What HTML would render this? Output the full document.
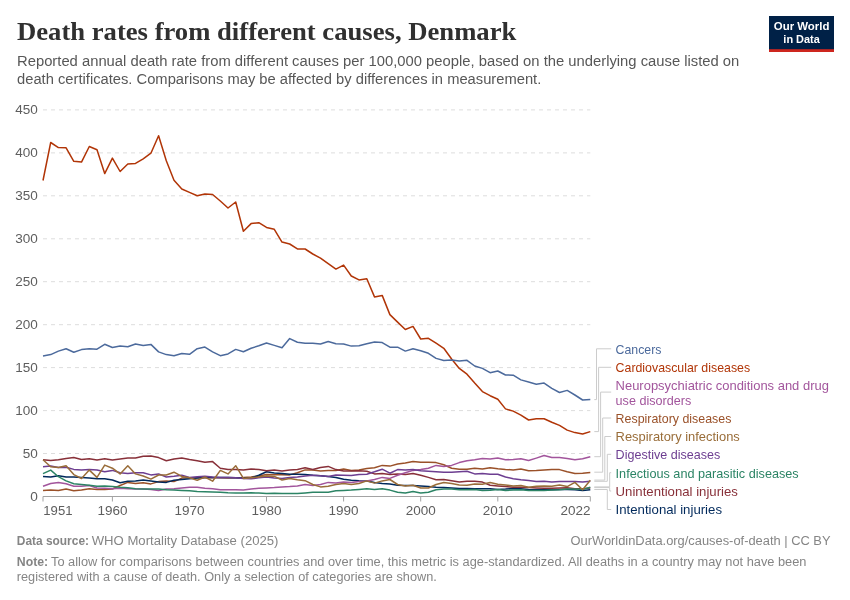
<!DOCTYPE html>
<html><head><meta charset="utf-8"><title>Death rates from different causes, Denmark</title>
<style>
html,body{margin:0;padding:0;background:#fff;}
body{width:850px;height:600px;overflow:hidden;font-family:"Liberation Sans",sans-serif;}
svg{display:block;will-change:transform;}
text{font-family:"Liberation Sans",sans-serif;}
.serif{font-family:"Liberation Serif",serif;}
</style></head><body>
<svg width="850" height="600" viewBox="0 0 850 600">
<rect width="850" height="600" fill="#ffffff"/>

<text class="serif" x="17" y="40" font-size="26.2" font-weight="700" fill="#303030" textLength="499.3" lengthAdjust="spacingAndGlyphs">Death rates from different causes, Denmark</text>
<text x="17" y="66.2" font-size="14" fill="#575757" textLength="722.3" lengthAdjust="spacingAndGlyphs">Reported annual death rate from different causes per 100,000 people, based on the underlying cause listed on</text>
<text x="17" y="84" font-size="14" fill="#575757" textLength="524.3" lengthAdjust="spacingAndGlyphs">death certificates. Comparisons may be affected by differences in measurement.</text>
<rect x="769" y="16" width="65" height="36" fill="#002147"/><rect x="769" y="49.2" width="65" height="2.8" fill="#CE261E"/>
<text x="801.6" y="30.4" font-size="11.3" font-weight="700" fill="#fff" text-anchor="middle" textLength="55.6" lengthAdjust="spacingAndGlyphs">Our World</text>
<text x="801.6" y="42.6" font-size="11.3" font-weight="700" fill="#fff" text-anchor="middle" textLength="36.5" lengthAdjust="spacingAndGlyphs">in Data</text>
<line x1="43" x2="590.3" y1="109.9" y2="109.9" stroke="#dddddd" stroke-width="1" stroke-dasharray="4,4"/>
<text x="37.9" y="114.4" font-size="13.4" fill="#5e5e5e" text-anchor="end" textLength="22.6" lengthAdjust="spacingAndGlyphs">450</text>
<line x1="43" x2="590.3" y1="152.9" y2="152.9" stroke="#dddddd" stroke-width="1" stroke-dasharray="4,4"/>
<text x="37.9" y="157.4" font-size="13.4" fill="#5e5e5e" text-anchor="end" textLength="22.6" lengthAdjust="spacingAndGlyphs">400</text>
<line x1="43" x2="590.3" y1="195.8" y2="195.8" stroke="#dddddd" stroke-width="1" stroke-dasharray="4,4"/>
<text x="37.9" y="200.3" font-size="13.4" fill="#5e5e5e" text-anchor="end" textLength="22.6" lengthAdjust="spacingAndGlyphs">350</text>
<line x1="43" x2="590.3" y1="238.8" y2="238.8" stroke="#dddddd" stroke-width="1" stroke-dasharray="4,4"/>
<text x="37.9" y="243.3" font-size="13.4" fill="#5e5e5e" text-anchor="end" textLength="22.6" lengthAdjust="spacingAndGlyphs">300</text>
<line x1="43" x2="590.3" y1="281.7" y2="281.7" stroke="#dddddd" stroke-width="1" stroke-dasharray="4,4"/>
<text x="37.9" y="286.2" font-size="13.4" fill="#5e5e5e" text-anchor="end" textLength="22.6" lengthAdjust="spacingAndGlyphs">250</text>
<line x1="43" x2="590.3" y1="324.7" y2="324.7" stroke="#dddddd" stroke-width="1" stroke-dasharray="4,4"/>
<text x="37.9" y="329.2" font-size="13.4" fill="#5e5e5e" text-anchor="end" textLength="22.6" lengthAdjust="spacingAndGlyphs">200</text>
<line x1="43" x2="590.3" y1="367.6" y2="367.6" stroke="#dddddd" stroke-width="1" stroke-dasharray="4,4"/>
<text x="37.9" y="372.1" font-size="13.4" fill="#5e5e5e" text-anchor="end" textLength="22.6" lengthAdjust="spacingAndGlyphs">150</text>
<line x1="43" x2="590.3" y1="410.6" y2="410.6" stroke="#dddddd" stroke-width="1" stroke-dasharray="4,4"/>
<text x="37.9" y="415.1" font-size="13.4" fill="#5e5e5e" text-anchor="end" textLength="22.6" lengthAdjust="spacingAndGlyphs">100</text>
<line x1="43" x2="590.3" y1="453.5" y2="453.5" stroke="#dddddd" stroke-width="1" stroke-dasharray="4,4"/>
<text x="37.9" y="458.0" font-size="13.4" fill="#5e5e5e" text-anchor="end" textLength="15.1" lengthAdjust="spacingAndGlyphs">50</text>
<text x="37.9" y="501.0" font-size="13.4" fill="#5e5e5e" text-anchor="end" textLength="7.6" lengthAdjust="spacingAndGlyphs">0</text>
<path d="M43,496.5H590.3" stroke="#a3a3a3" stroke-width="1" fill="none"/>
<path d="M43.0,496.5V501.5" stroke="#a3a3a3" stroke-width="1" fill="none"/>
<text x="43.3" y="514.8" font-size="13.7" fill="#5e5e5e" text-anchor="start" textLength="29.2" lengthAdjust="spacingAndGlyphs">1951</text>
<path d="M112.4,496.5V501.5" stroke="#a3a3a3" stroke-width="1" fill="none"/>
<text x="112.4" y="514.8" font-size="13.7" fill="#5e5e5e" text-anchor="middle" textLength="30.0" lengthAdjust="spacingAndGlyphs">1960</text>
<path d="M189.5,496.5V501.5" stroke="#a3a3a3" stroke-width="1" fill="none"/>
<text x="189.5" y="514.8" font-size="13.7" fill="#5e5e5e" text-anchor="middle" textLength="30.0" lengthAdjust="spacingAndGlyphs">1970</text>
<path d="M266.5,496.5V501.5" stroke="#a3a3a3" stroke-width="1" fill="none"/>
<text x="266.5" y="514.8" font-size="13.7" fill="#5e5e5e" text-anchor="middle" textLength="30.0" lengthAdjust="spacingAndGlyphs">1980</text>
<path d="M343.6,496.5V501.5" stroke="#a3a3a3" stroke-width="1" fill="none"/>
<text x="343.6" y="514.8" font-size="13.7" fill="#5e5e5e" text-anchor="middle" textLength="30.0" lengthAdjust="spacingAndGlyphs">1990</text>
<path d="M420.7,496.5V501.5" stroke="#a3a3a3" stroke-width="1" fill="none"/>
<text x="420.7" y="514.8" font-size="13.7" fill="#5e5e5e" text-anchor="middle" textLength="30.0" lengthAdjust="spacingAndGlyphs">2000</text>
<path d="M497.8,496.5V501.5" stroke="#a3a3a3" stroke-width="1" fill="none"/>
<text x="497.8" y="514.8" font-size="13.7" fill="#5e5e5e" text-anchor="middle" textLength="30.0" lengthAdjust="spacingAndGlyphs">2010</text>
<path d="M590.3,496.5V501.5" stroke="#a3a3a3" stroke-width="1" fill="none"/>
<text x="590.5" y="514.8" font-size="13.7" fill="#5e5e5e" text-anchor="end" textLength="30.0" lengthAdjust="spacingAndGlyphs">2022</text>
<path d="M43.0,490.4 L50.7,490.1 L58.4,490.4 L66.1,489.0 L73.8,490.8 L81.5,490.1 L89.3,488.7 L97.0,489.4 L104.7,489.4 L112.4,489.0 L120.1,485.5 L127.8,482.4 L135.5,483.5 L143.2,482.8 L150.9,483.9 L158.6,481.6 L166.3,480.9 L174.0,481.6 L181.8,478.1 L189.5,477.8 L197.2,477.8 L204.9,477.6 L212.6,477.8 L220.3,477.8 L228.0,478.1 L235.7,477.8 L243.4,477.6 L251.1,477.0 L258.8,476.0 L266.5,474.6 L274.3,474.7 L282.0,474.7 L289.7,474.9 L297.4,472.8 L305.1,469.9 L312.8,469.9 L320.5,471.1 L328.2,470.4 L335.9,470.4 L343.6,468.9 L351.3,470.4 L359.0,469.9 L366.8,468.5 L374.5,467.7 L382.2,465.4 L389.9,466.1 L397.6,464.0 L405.3,463.0 L413.0,461.6 L420.7,462.3 L428.4,462.3 L436.1,462.6 L443.8,464.7 L451.6,468.2 L459.3,469.2 L467.0,469.2 L474.7,468.2 L482.4,469.1 L490.1,467.7 L497.8,468.7 L505.5,469.4 L513.2,469.9 L520.9,468.9 L528.6,470.8 L536.3,470.6 L544.1,470.1 L551.8,469.6 L559.5,469.6 L567.2,471.8 L574.9,473.6 L582.6,473.2 L590.3,472.5" fill="none" stroke="#9A5129" stroke-width="1.5" stroke-linejoin="round" stroke-linecap="butt"/>
<path d="M43.0,476.4 L50.7,477.1 L58.4,475.7 L66.1,477.0 L73.8,477.1 L81.5,477.4 L89.3,478.1 L97.0,478.8 L104.7,478.8 L112.4,480.0 L120.1,482.8 L127.8,481.2 L135.5,480.9 L143.2,480.0 L150.9,481.1 L158.6,482.1 L166.3,482.4 L174.0,480.2 L181.8,479.5 L189.5,478.8 L197.2,478.1 L204.9,477.6 L212.6,477.4 L220.3,477.4 L228.0,477.4 L235.7,477.8 L243.4,478.3 L251.1,478.0 L258.8,475.2 L266.5,471.8 L274.3,472.9 L282.0,473.6 L289.7,474.3 L297.4,474.3 L305.1,474.6 L312.8,475.3 L320.5,475.7 L328.2,476.4 L335.9,477.4 L343.6,479.2 L351.3,480.2 L359.0,480.7 L366.8,480.9 L374.5,482.4 L382.2,483.5 L389.9,484.0 L397.6,485.2 L405.3,485.5 L413.0,485.5 L420.7,485.9 L428.4,486.6 L436.1,487.3 L443.8,487.6 L451.6,488.0 L459.3,488.4 L467.0,488.4 L474.7,488.7 L482.4,488.7 L490.1,488.7 L497.8,489.4 L505.5,489.1 L513.2,488.4 L520.9,488.7 L528.6,489.4 L536.3,489.7 L544.1,489.7 L551.8,489.8 L559.5,489.4 L567.2,489.4 L574.9,489.7 L582.6,490.4 L590.3,489.7" fill="none" stroke="#00295B" stroke-width="1.5" stroke-linejoin="round" stroke-linecap="butt"/>
<path d="M43.0,459.8 L50.7,460.5 L58.4,459.8 L66.1,458.4 L73.8,457.6 L81.5,459.5 L89.3,458.8 L97.0,460.0 L104.7,458.8 L112.4,460.0 L120.1,459.1 L127.8,458.1 L135.5,458.1 L143.2,456.2 L150.9,456.0 L158.6,457.6 L166.3,460.8 L174.0,459.1 L181.8,457.9 L189.5,459.5 L197.2,460.8 L204.9,462.3 L212.6,461.6 L220.3,468.2 L228.0,469.4 L235.7,469.4 L243.4,470.1 L251.1,468.9 L258.8,469.6 L266.5,470.8 L274.3,470.1 L282.0,471.1 L289.7,470.1 L297.4,469.4 L305.1,467.8 L312.8,469.4 L320.5,467.5 L328.2,466.4 L335.9,469.6 L343.6,471.1 L351.3,471.1 L359.0,470.8 L366.8,471.3 L374.5,473.9 L382.2,473.5 L389.9,474.6 L397.6,473.9 L405.3,474.6 L413.0,473.5 L420.7,475.3 L428.4,477.4 L436.1,479.8 L443.8,479.5 L451.6,480.7 L459.3,481.9 L467.0,481.2 L474.7,481.2 L482.4,482.1 L490.1,485.2 L497.8,485.9 L505.5,486.6 L513.2,487.3 L520.9,487.3 L528.6,487.6 L536.3,488.0 L544.1,488.3 L551.8,488.3 L559.5,488.0 L567.2,487.7 L574.9,488.7 L582.6,488.7 L590.3,488.0" fill="none" stroke="#883039" stroke-width="1.5" stroke-linejoin="round" stroke-linecap="butt"/>
<path d="M43.0,486.3 L50.7,483.5 L58.4,482.4 L66.1,483.8 L73.8,486.2 L81.5,486.2 L89.3,485.5 L97.0,488.0 L104.7,488.3 L112.4,488.7 L120.1,488.3 L127.8,488.7 L135.5,489.1 L143.2,489.1 L150.9,489.4 L158.6,490.5 L166.3,489.1 L174.0,488.7 L181.8,488.0 L189.5,487.3 L197.2,487.3 L204.9,488.3 L212.6,488.7 L220.3,489.7 L228.0,489.7 L235.7,489.7 L243.4,490.1 L251.1,489.1 L258.8,488.3 L266.5,487.9 L274.3,487.6 L282.0,486.9 L289.7,486.6 L297.4,485.9 L305.1,484.5 L312.8,485.5 L320.5,484.5 L328.2,482.4 L335.9,483.1 L343.6,482.1 L351.3,482.4 L359.0,481.6 L366.8,480.9 L374.5,479.5 L382.2,477.4 L389.9,478.4 L397.6,475.3 L405.3,472.8 L413.0,470.4 L420.7,469.6 L428.4,468.2 L436.1,465.4 L443.8,466.5 L451.6,465.4 L459.3,462.6 L467.0,460.8 L474.7,459.8 L482.4,458.6 L490.1,459.1 L497.8,458.1 L505.5,459.8 L513.2,459.5 L520.9,458.8 L528.6,460.5 L536.3,458.1 L544.1,455.5 L551.8,457.4 L559.5,457.4 L567.2,458.4 L574.9,459.8 L582.6,458.8 L590.3,456.7" fill="none" stroke="#A2559C" stroke-width="1.5" stroke-linejoin="round" stroke-linecap="butt"/>
<path d="M43.0,473.6 L50.7,470.1 L58.4,476.7 L66.1,480.9 L73.8,483.8 L81.5,484.5 L89.3,485.2 L97.0,486.3 L104.7,485.9 L112.4,486.6 L120.1,487.3 L127.8,487.7 L135.5,488.7 L143.2,489.0 L150.9,489.1 L158.6,489.1 L166.3,489.8 L174.0,490.1 L181.8,490.5 L189.5,490.8 L197.2,491.5 L204.9,491.8 L212.6,492.0 L220.3,492.2 L228.0,492.7 L235.7,492.9 L243.4,493.1 L251.1,492.8 L258.8,493.1 L266.5,493.4 L274.3,493.2 L282.0,493.5 L289.7,493.6 L297.4,493.6 L305.1,492.9 L312.8,492.2 L320.5,492.2 L328.2,492.2 L335.9,490.8 L343.6,490.4 L351.3,490.1 L359.0,489.4 L366.8,488.8 L374.5,489.6 L382.2,488.7 L389.9,490.1 L397.6,492.2 L405.3,492.9 L413.0,491.5 L420.7,492.9 L428.4,492.2 L436.1,489.8 L443.8,489.1 L451.6,489.1 L459.3,489.7 L467.0,489.7 L474.7,489.4 L482.4,490.5 L490.1,490.3 L497.8,489.4 L505.5,490.5 L513.2,490.1 L520.9,489.8 L528.6,490.5 L536.3,490.4 L544.1,490.4 L551.8,490.1 L559.5,489.7 L567.2,489.1 L574.9,489.0 L582.6,489.4 L590.3,487.3" fill="none" stroke="#2C8465" stroke-width="1.5" stroke-linejoin="round" stroke-linecap="butt"/>
<path d="M43.0,466.8 L50.7,466.1 L58.4,467.5 L66.1,467.2 L73.8,469.4 L81.5,469.9 L89.3,469.6 L97.0,470.1 L104.7,471.8 L112.4,470.4 L120.1,472.8 L127.8,473.6 L135.5,472.8 L143.2,472.8 L150.9,474.9 L158.6,473.9 L166.3,477.0 L174.0,476.3 L181.8,475.3 L189.5,477.4 L197.2,476.7 L204.9,476.3 L212.6,477.0 L220.3,477.4 L228.0,477.4 L235.7,477.8 L243.4,478.4 L251.1,478.8 L258.8,477.8 L266.5,477.0 L274.3,478.1 L282.0,478.4 L289.7,477.4 L297.4,477.0 L305.1,476.0 L312.8,475.3 L320.5,475.7 L328.2,476.4 L335.9,475.0 L343.6,475.3 L351.3,475.6 L359.0,474.6 L366.8,474.2 L374.5,471.8 L382.2,469.2 L389.9,473.2 L397.6,469.6 L405.3,470.1 L413.0,469.4 L420.7,470.8 L428.4,471.3 L436.1,471.8 L443.8,472.2 L451.6,472.2 L459.3,471.8 L467.0,471.3 L474.7,473.9 L482.4,473.6 L490.1,474.2 L497.8,474.3 L505.5,477.0 L513.2,478.8 L520.9,479.8 L528.6,480.5 L536.3,481.6 L544.1,481.2 L551.8,481.9 L559.5,481.6 L567.2,481.4 L574.9,481.4 L582.6,482.1 L590.3,481.2" fill="none" stroke="#6D3E91" stroke-width="1.5" stroke-linejoin="round" stroke-linecap="butt"/>
<path d="M43.0,459.8 L50.7,466.8 L58.4,467.5 L66.1,465.8 L73.8,474.6 L81.5,478.5 L89.3,470.1 L97.0,477.4 L104.7,465.1 L112.4,468.2 L120.1,473.9 L127.8,465.7 L135.5,473.9 L143.2,476.0 L150.9,479.1 L158.6,475.0 L166.3,475.0 L174.0,472.2 L181.8,476.4 L189.5,477.8 L197.2,480.2 L204.9,477.0 L212.6,481.2 L220.3,470.4 L228.0,473.9 L235.7,465.7 L243.4,478.4 L251.1,477.8 L258.8,477.0 L266.5,476.0 L274.3,476.4 L282.0,480.0 L289.7,478.4 L297.4,479.8 L305.1,480.7 L312.8,484.5 L320.5,486.9 L328.2,486.3 L335.9,484.5 L343.6,483.5 L351.3,484.5 L359.0,483.5 L366.8,480.9 L374.5,483.1 L382.2,480.9 L389.9,479.5 L397.6,484.5 L405.3,485.9 L413.0,485.2 L420.7,488.0 L428.4,488.0 L436.1,484.5 L443.8,482.6 L451.6,483.5 L459.3,484.9 L467.0,485.2 L474.7,484.0 L482.4,484.2 L490.1,482.6 L497.8,484.2 L505.5,484.9 L513.2,485.9 L520.9,485.5 L528.6,487.3 L536.3,486.3 L544.1,485.9 L551.8,486.2 L559.5,484.9 L567.2,486.6 L574.9,482.4 L582.6,489.7 L590.3,480.2" fill="none" stroke="#996D39" stroke-width="1.5" stroke-linejoin="round" stroke-linecap="butt"/>
<path d="M43.0,180.5 L50.7,142.5 L58.4,147.6 L66.1,147.8 L73.8,161.3 L81.5,162.1 L89.3,146.5 L97.0,149.7 L104.7,173.6 L112.4,158.1 L120.1,171.5 L127.8,164.0 L135.5,163.4 L143.2,158.9 L150.9,153.2 L158.6,135.7 L166.3,160.8 L174.0,180.2 L181.8,189.0 L189.5,192.4 L197.2,195.8 L204.9,193.9 L212.6,194.5 L220.3,201.0 L228.0,208.0 L235.7,202.0 L243.4,231.2 L251.1,223.6 L258.8,222.7 L266.5,227.4 L274.3,229.3 L282.0,242.1 L289.7,244.0 L297.4,248.9 L305.1,249.0 L312.8,254.0 L320.5,258.1 L328.2,263.7 L335.9,269.1 L343.6,265.1 L351.3,276.0 L359.0,279.9 L366.8,278.8 L374.5,296.9 L382.2,295.4 L389.9,314.6 L397.6,322.1 L405.3,329.5 L413.0,326.4 L420.7,339.0 L428.4,338.3 L436.1,343.2 L443.8,348.3 L451.6,359.0 L459.3,368.4 L467.0,374.2 L474.7,383.1 L482.4,391.6 L490.1,395.7 L497.8,399.3 L505.5,408.9 L513.2,411.1 L520.9,415.1 L528.6,420.0 L536.3,418.7 L544.1,418.7 L551.8,422.2 L559.5,425.4 L567.2,430.1 L574.9,432.6 L582.6,434.0 L590.3,431.6" fill="none" stroke="#B13507" stroke-width="1.5" stroke-linejoin="round" stroke-linecap="butt"/>
<path d="M43.0,356.0 L50.7,354.6 L58.4,351.1 L66.1,348.7 L73.8,352.2 L81.5,349.6 L89.3,348.7 L97.0,349.2 L104.7,344.3 L112.4,347.5 L120.1,346.1 L127.8,346.8 L135.5,344.0 L143.2,345.4 L150.9,344.4 L158.6,351.9 L166.3,354.6 L174.0,355.7 L181.8,353.5 L189.5,354.3 L197.2,348.7 L204.9,347.1 L212.6,351.8 L220.3,355.7 L228.0,353.9 L235.7,349.4 L243.4,351.8 L251.1,348.2 L258.8,345.8 L266.5,343.0 L274.3,345.4 L282.0,347.8 L289.7,338.6 L297.4,342.2 L305.1,343.3 L312.8,343.3 L320.5,344.0 L328.2,341.5 L335.9,343.7 L343.6,344.0 L351.3,346.1 L359.0,345.8 L366.8,343.7 L374.5,341.9 L382.2,342.6 L389.9,347.2 L397.6,347.2 L405.3,351.1 L413.0,348.7 L420.7,350.7 L428.4,353.3 L436.1,358.4 L443.8,360.5 L451.6,360.1 L459.3,360.9 L467.0,360.3 L474.7,366.0 L482.4,368.4 L490.1,372.7 L497.8,371.0 L505.5,375.0 L513.2,375.2 L520.9,379.9 L528.6,382.0 L536.3,384.2 L544.1,383.1 L551.8,388.4 L559.5,392.5 L567.2,390.4 L574.9,395.0 L582.6,400.0 L590.3,399.6" fill="none" stroke="#4C6A9C" stroke-width="1.5" stroke-linejoin="round" stroke-linecap="butt"/>
<path d="M594.3,399.6H596.5V348.8H611.2" stroke="#cccccc" stroke-width="1" fill="none"/>
<path d="M594.3,431.6H598.6V367.3H611.2" stroke="#cccccc" stroke-width="1" fill="none"/>
<path d="M594.3,456.7H600.6V392.1H611.2" stroke="#cccccc" stroke-width="1" fill="none"/>
<path d="M594.3,472.2H602.7V418H611.2" stroke="#cccccc" stroke-width="1" fill="none"/>
<path d="M594.3,480.1H604.8V436.5H611.2" stroke="#cccccc" stroke-width="1" fill="none"/>
<path d="M594.3,481.3H607.3V454.3H611.2" stroke="#cccccc" stroke-width="1" fill="none"/>
<path d="M594.3,486.9H609.7V472.7H611.2" stroke="#cccccc" stroke-width="1" fill="none"/>
<path d="M594.3,487.6H609.7V491H611.2" stroke="#cccccc" stroke-width="1" fill="none"/>
<path d="M594.3,489.5H607.3V509.5H611.2" stroke="#cccccc" stroke-width="1" fill="none"/>
<text x="615.6" y="353.7" font-size="13.3" fill="#4C6A9C" textLength="45.9" lengthAdjust="spacingAndGlyphs">Cancers</text>
<text x="615.6" y="371.8" font-size="13.3" fill="#B13507" textLength="134.5" lengthAdjust="spacingAndGlyphs">Cardiovascular diseases</text>
<text x="615.6" y="390.2" font-size="13.3" fill="#A2559C" textLength="213.3" lengthAdjust="spacingAndGlyphs">Neuropsychiatric conditions and drug</text>
<text x="615.6" y="404.9" font-size="13.3" fill="#A2559C" textLength="75.6" lengthAdjust="spacingAndGlyphs">use disorders</text>
<text x="615.6" y="423.0" font-size="13.3" fill="#9A5129" textLength="115.8" lengthAdjust="spacingAndGlyphs">Respiratory diseases</text>
<text x="615.6" y="441.4" font-size="13.3" fill="#996D39" textLength="124.2" lengthAdjust="spacingAndGlyphs">Respiratory infections</text>
<text x="615.6" y="459.4" font-size="13.3" fill="#6D3E91" textLength="104.6" lengthAdjust="spacingAndGlyphs">Digestive diseases</text>
<text x="615.6" y="477.7" font-size="13.3" fill="#2C8465" textLength="183.1" lengthAdjust="spacingAndGlyphs">Infectious and parasitic diseases</text>
<text x="615.6" y="495.8" font-size="13.3" fill="#883039" textLength="122.3" lengthAdjust="spacingAndGlyphs">Unintentional injuries</text>
<text x="615.6" y="513.8" font-size="13.3" fill="#00295B" textLength="106.4" lengthAdjust="spacingAndGlyphs">Intentional injuries</text>
<text x="16.8" y="545.1" font-size="12" fill="#858585"><tspan font-weight="700" textLength="72.2" lengthAdjust="spacingAndGlyphs">Data source:</tspan></text>
<text x="91.7" y="545.1" font-size="12" fill="#858585" textLength="186.8" lengthAdjust="spacingAndGlyphs">WHO Mortality Database (2025)</text>
<text x="830.5" y="545.1" font-size="12" fill="#858585" text-anchor="end" textLength="260" lengthAdjust="spacingAndGlyphs">OurWorldinData.org/causes-of-death | CC BY</text>
<text x="16.8" y="565.5" font-size="12" fill="#858585" font-weight="700" textLength="31.4" lengthAdjust="spacingAndGlyphs">Note:</text>
<text x="51.0" y="565.5" font-size="12" fill="#858585" textLength="755.5" lengthAdjust="spacingAndGlyphs">To allow for comparisons between countries and over time, this metric is age-standardized. All deaths in a country may not have been</text>
<text x="16.8" y="580.8" font-size="12" fill="#858585" textLength="420.0" lengthAdjust="spacingAndGlyphs">registered with a cause of death. Only a selection of categories are shown.</text>
</svg></body></html>
